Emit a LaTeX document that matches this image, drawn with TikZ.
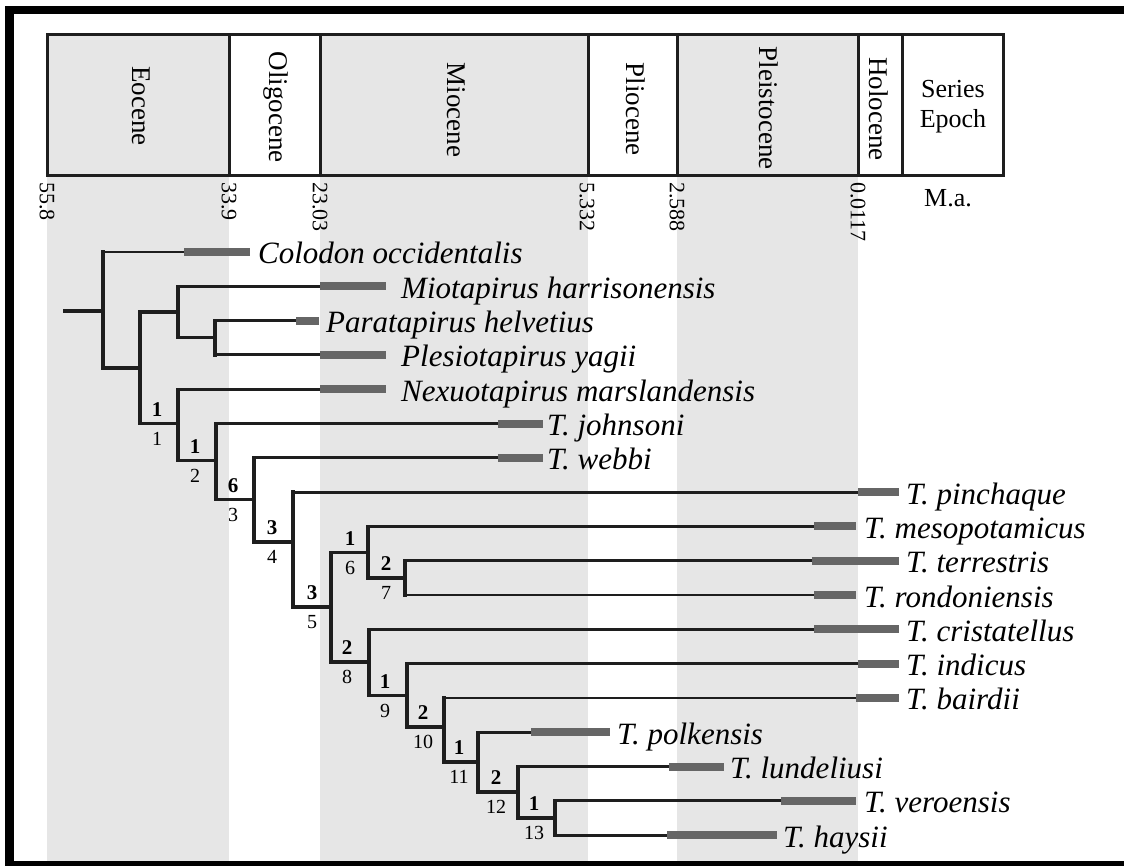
\documentclass[tikz,border=0pt]{standalone}
\usepackage{fontspec}
\setmainfont{Liberation Serif}
\usetikzlibrary{calc}
\definecolor{band}{HTML}{E6E6E6}
\definecolor{barc}{HTML}{666666}
\definecolor{ink}{HTML}{1E1E1E}
\newcommand\tipedge[2]{\draw[br] (#1) -- (#1 |- #2); \draw[tipl] (#1 |- #2) -- (#2);}
\begin{document}
\begin{tikzpicture}[x=1pt,y=-1pt,
  br/.style={draw=ink,line width=3.4pt,line cap=rect},
  tipl/.style={draw=ink,line width=2.8pt},
  agebar/.style={draw=barc,line width=8pt},
  sp/.style={anchor=base west,inner sep=0pt,font=\fontsize{31}{36}\selectfont\itshape},
  ep/.style={rotate=-90,inner sep=0pt,font=\fontsize{27}{30}\selectfont},
  ticklab/.style={rotate=-90,anchor=west,inner sep=0pt,font=\fontsize{22}{24}\selectfont},
  supp/.style={inner sep=0pt,font=\fontsize{21}{23}\selectfont\bfseries},
  idx/.style={inner sep=0pt,font=\fontsize{20}{22}\selectfont},
  boxline/.style={draw=ink,line width=3pt}
]
\useasboundingbox (0,0) rectangle (1124,866);
\fill[white] (0,0) rectangle (1124,866);
% bands
\fill[band] (47,35) rectangle (229,861);
\fill[band] (320,35) rectangle (588,861);
\fill[band] (677,35) rectangle (858,861);
% frame
\fill[black] (5,6) rectangle (14,866);
\fill[black] (5,6) rectangle (1124,14);
\fill[black] (5,861) rectangle (1124,866);
% header box
\draw[boxline] (47,35) rectangle (1003,176);
\foreach \x in {229,320,588,677,858,902} \draw[boxline] (\x,35) -- (\x,176);
\node[ep] (eoc) at (141,106) {Eocene};
\node[ep] (oli) at (276,107) {Oligocene};
\node[ep] (mio) at (456,110) {Miocene};
\node[ep] (pli) at (636,109) {Pliocene};
\node[ep] (ple) at (769,108) {Pleistocene};
\node[ep] (hol) at (879,109) {Holocene};
\node[align=center,inner sep=0pt,font=\fontsize{26}{30}\selectfont] (ser) at (953,107) {Series\\Epoch};
% ticks
\node[ticklab] (k1) at (47,182) {55.8};
\node[ticklab] (k2) at (229,182) {33.9};
\node[ticklab] (k3) at (320,182) {23.03};
\node[ticklab] (k4) at (587,182) {5.332};
\node[ticklab] (k5) at (677,182) {2.588};
\node[ticklab] (k6) at (858,182) {0.0117};
\node[anchor=base,inner sep=0pt,font=\fontsize{26}{30}\selectfont] (ma) at (948,207) {M.a.};
% internal nodes
\coordinate (stem) at (65,311);
\coordinate (R) at (103,311);
\coordinate (A) at (140,368);
\coordinate (B) at (178,312);
\coordinate (C) at (215,337.7);
\coordinate (N1) at (178,423.5);
\coordinate (N2) at (216,460.5);
\coordinate (N3) at (254,499.5);
\coordinate (N4) at (293,542);
\coordinate (N5) at (331,607);
\coordinate (N6) at (368,552.5);
\coordinate (N7) at (405,578);
\coordinate (N8) at (369,662);
\coordinate (N9) at (407,695.5);
\coordinate (N10) at (444,727);
\coordinate (N11) at (478,762);
\coordinate (N12) at (518,792);
\coordinate (N13) at (555,818);
% bar starts (b) and ends (e)
\coordinate (b1) at (184,252);   \coordinate (e1) at (250,252);
\coordinate (b2) at (320,286.3); \coordinate (e2) at (386,286.3);
\coordinate (b3) at (296,320.6); \coordinate (e3) at (319,320.6);
\coordinate (b4) at (320,354.9); \coordinate (e4) at (386,354.9);
\coordinate (b5) at (320,389.2); \coordinate (e5) at (386,389.2);
\coordinate (b6) at (498,423.5); \coordinate (e6) at (543,423.5);
\coordinate (b7) at (498,457.8); \coordinate (e7) at (543,457.8);
\coordinate (b8) at (858,492.1); \coordinate (e8) at (899,492.1);
\coordinate (b9) at (814,526.4); \coordinate (e9) at (856,526.4);
\coordinate (b10) at (812,560.7); \coordinate (e10) at (899,560.7);
\coordinate (b11) at (814,595); \coordinate (e11) at (856,595);
\coordinate (b12) at (814,629.3); \coordinate (e12) at (899,629.3);
\coordinate (b13) at (858,663.6); \coordinate (e13) at (899,663.6);
\coordinate (b14) at (856,697.9); \coordinate (e14) at (899,697.9);
\coordinate (b15) at (531,732.2); \coordinate (e15) at (610,732.2);
\coordinate (b16) at (669,766.5); \coordinate (e16) at (724,766.5);
\coordinate (b17) at (781,800.8); \coordinate (e17) at (856,800.8);
\coordinate (b18) at (667,835.1); \coordinate (e18) at (777,835.1);
% internal edges
\draw[br] (stem) -- (R);
\draw[br] (R) |- (A);
\draw[br] (A) |- (B);
\draw[br] (B) |- (C);
\draw[br] (A) |- (N1);
\draw[br] (N1) |- (N2);
\draw[br] (N2) |- (N3);
\draw[br] (N3) |- (N4);
\draw[br] (N4) |- (N5);
\draw[br] (N5) |- (N6);
\draw[br] (N6) |- (N7);
\draw[br] (N5) |- (N8);
\draw[br] (N8) |- (N9);
\draw[br] (N9) |- (N10);
\draw[br] (N10) |- (N11);
\draw[br] (N11) |- (N12);
\draw[br] (N12) |- (N13);
% tip edges
\tipedge{R}{b1}
\tipedge{B}{b2}
\tipedge{C}{b3}
\tipedge{C}{b4}
\tipedge{N1}{b5}
\tipedge{N2}{b6}
\tipedge{N3}{b7}
\tipedge{N4}{b8}
\tipedge{N6}{b9}
\tipedge{N7}{b10}
\tipedge{N7}{b11}
\tipedge{N8}{b12}
\tipedge{N9}{b13}
\tipedge{N10}{b14}
\tipedge{N11}{b15}
\tipedge{N12}{b16}
\tipedge{N13}{b17}
\tipedge{N13}{b18}
% age bars
\foreach \i in {1,...,18} \draw[agebar] (b\i) -- (e\i);
% species labels
\node[sp] (L1) at (258,264) {Colodon occidentalis};
\node[sp] (L2) at (401,298.3) {Miotapirus harrisonensis};
\node[sp] (L3) at (326,332.6) {Paratapirus helvetius};
\node[sp] (L4) at (401,366.9) {Plesiotapirus yagii};
\node[sp] (L5) at (401,401.2) {Nexuotapirus marslandensis};
\node[sp] (L6) at (547,435.5) {T. johnsoni};
\node[sp] (L7) at (547,469.8) {T. webbi};
\node[sp] (L8) at (906,504.1) {T. pinchaque};
\node[sp] (L9) at (864,538.4) {T. mesopotamicus};
\node[sp] (L10) at (906,572.7) {T. terrestris};
\node[sp] (L11) at (864,607) {T. rondoniensis};
\node[sp] (L12) at (906,641.3) {T. cristatellus};
\node[sp] (L13) at (906,675.6) {T. indicus};
\node[sp] (L14) at (906,709.9) {T. bairdii};
\node[sp] (L15) at (617,744.2) {T. polkensis};
\node[sp] (L16) at (730,778.5) {T. lundeliusi};
\node[sp] (L17) at (864,812.8) {T. veroensis};
\node[sp] (L18) at (783,847.1) {T. haysii};
% node support / index labels
\node[supp] (s1) at (157,409.5) {1};  \node[idx] (i1) at (157,438.5) {1};
\node[supp] (s2) at (195,446.5) {1};  \node[idx] (i2) at (195,475.5) {2};
\node[supp] (s3) at (233,485.5) {6};  \node[idx] (i3) at (233,514.5) {3};
\node[supp] (s4) at (272,528) {3};    \node[idx] (i4) at (272,557) {4};
\node[supp] (s5) at (312,593) {3};    \node[idx] (i5) at (312,622) {5};
\node[supp] (s6) at (350,538.5) {1};  \node[idx] (i6) at (350,567.5) {6};
\node[supp] (s7) at (386,564) {2};    \node[idx] (i7) at (386,593) {7};
\node[supp] (s8) at (347,648) {2};    \node[idx] (i8) at (347,677) {8};
\node[supp] (s9) at (385,681.5) {1};  \node[idx] (i9) at (385,710.5) {9};
\node[supp] (s10) at (423,713) {2};   \node[idx] (i10) at (423,742) {10};
\node[supp] (s11) at (459,748) {1};   \node[idx] (i11) at (459,777) {11};
\node[supp] (s12) at (496,778) {2};   \node[idx] (i12) at (496,807) {12};
\node[supp] (s13) at (534,804) {1};   \node[idx] (i13) at (534,833) {13};
\end{tikzpicture}
\end{document}
